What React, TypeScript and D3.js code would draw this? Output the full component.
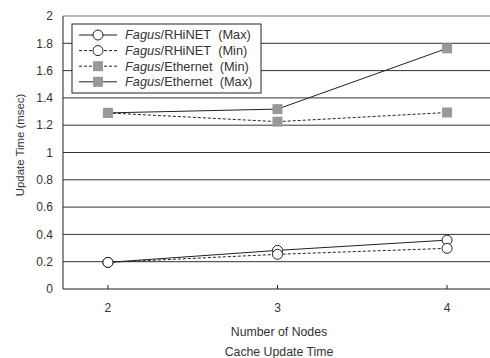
import React from "react";
import * as d3 from "d3";

const nodes = [2, 3, 4];
const rhinetMax = [0.195, 0.283, 0.358];
const rhinetMin = [0.195, 0.254, 0.298];
const ethMin = [1.29, 1.226, 1.293];
const ethMax = [1.29, 1.318, 1.763];
const yTicks = [0, 0.2, 0.4, 0.6, 0.8, 1, 1.2, 1.4, 1.6, 1.8, 2];
const seriesNames = ["RHiNET\u00a0 (Max)", "RHiNET\u00a0 (Min)", "Ethernet\u00a0 (Min)", "Ethernet\u00a0 (Max)"];

type Series = { name: string; values: number[]; dashed: boolean; marker: "circle" | "square" };
const series: Series[] = [
  { name: seriesNames[0], values: rhinetMax, dashed: false, marker: "circle" },
  { name: seriesNames[1], values: rhinetMin, dashed: true, marker: "circle" },
  { name: seriesNames[2], values: ethMin, dashed: true, marker: "square" },
  { name: seriesNames[3], values: ethMax, dashed: false, marker: "square" },
];

const W = 490, H = 358;
const left = 63, right = 492, top = 16, bottom = 289;
const font = "Liberation Sans, Arial, sans-serif";

export default function App() {
  const x = d3.scalePoint<number>().domain(nodes).range([left, right]).padding(0.265);
  const y = d3.scaleLinear().domain([0, 2]).range([bottom, top]);
  const line = d3.line<[number, number]>().x((d) => x(d[0])!).y((d) => y(d[1]));

  const drawMarker = (m: "circle" | "square", cx: number, cy: number, key: string) =>
    m === "circle" ? (
      <circle key={key} cx={cx} cy={cy} r={5} fill="#fff" stroke="#222" strokeWidth={1} />
    ) : (
      <rect key={key} x={cx - 5} y={cy - 5} width={10} height={10} fill="#999" />
    );

  const drawOrder = [3, 2, 0, 1];

  return (
    <svg width={W} height={H} style={{ position: "absolute", left: 0, top: 0 }} fontFamily={font}>
      <rect x={0} y={0} width={W} height={H} fill="#fff" />
      {yTicks.map((t) =>
        t === 0 ? null : (
          <line key={"g" + t} x1={left} x2={W} y1={y(t)} y2={y(t)} stroke={t === 2 ? "#777" : "#333"} strokeWidth={1} />
        )
      )}
      <line x1={left} x2={left} y1={top} y2={bottom} stroke="#222" strokeWidth={1} />
      <line x1={left} x2={W} y1={bottom} y2={bottom} stroke="#222" strokeWidth={1.2} />
      {nodes.map((n) => (
        <line key={"xt" + n} x1={x(n)} x2={x(n)} y1={bottom} y2={bottom - 4} stroke="#222" strokeWidth={1} />
      ))}
      {yTicks.map((t) => (
        <text key={"yl" + t} x={53} y={y(t)} dy="0.35em" textAnchor="end" fontSize={12} fill="#333">
          {t}
        </text>
      ))}
      {nodes.map((n) => (
        <text key={"xl" + n} x={x(n)} y={308} dy="0.35em" textAnchor="middle" fontSize={12} fill="#333">
          {n}
        </text>
      ))}
      <text x={279} y={332} dy="0.35em" textAnchor="middle" fontSize={12.3} fill="#333">
        Number of Nodes
      </text>
      <text x={279} y={352} dy="0.35em" textAnchor="middle" fontSize={12.3} fill="#333">
        Cache Update Time
      </text>
      <text
        transform={`translate(20,145) rotate(-90)`}
        textAnchor="middle"
        dy="0.35em"
        fontSize={11.4}
        fill="#333"
      >
        Update Time (msec)
      </text>
      {drawOrder.map((i) => {
        const s = series[i];
        const pts = nodes.map((n, j) => [n, s.values[j]] as [number, number]);
        return (
          <path
            key={"l" + i}
            d={line(pts)!}
            fill="none"
            stroke="#222"
            strokeWidth={1}
            strokeDasharray={s.dashed ? "3,2" : undefined}
          />
        );
      })}
      {drawOrder.map((i) => {
        const s = series[i];
        return nodes.map((n, j) => drawMarker(s.marker, x(n)!, y(s.values[j]), `m${i}-${j}`));
      })}
      <rect x={72} y={24} width={189} height={69} fill="#fff" stroke="#222" strokeWidth={1} />
      {series.map((s, i) => {
        const ly = 35 + i * 15.6;
        return (
          <g key={"lg" + i}>
            <line x1={79} x2={117} y1={ly} y2={ly} stroke="#222" strokeWidth={1} strokeDasharray={s.dashed ? "3,2" : undefined} />
            {drawMarker(s.marker, 98, ly, "lm" + i)}
            <text x={125} y={ly} dy="0.35em" fontSize={12.8} fill="#333">
              <tspan fontStyle="italic">Fagus</tspan>
              <tspan>/{s.name}</tspan>
            </text>
          </g>
        );
      })}
    </svg>
  );
}
